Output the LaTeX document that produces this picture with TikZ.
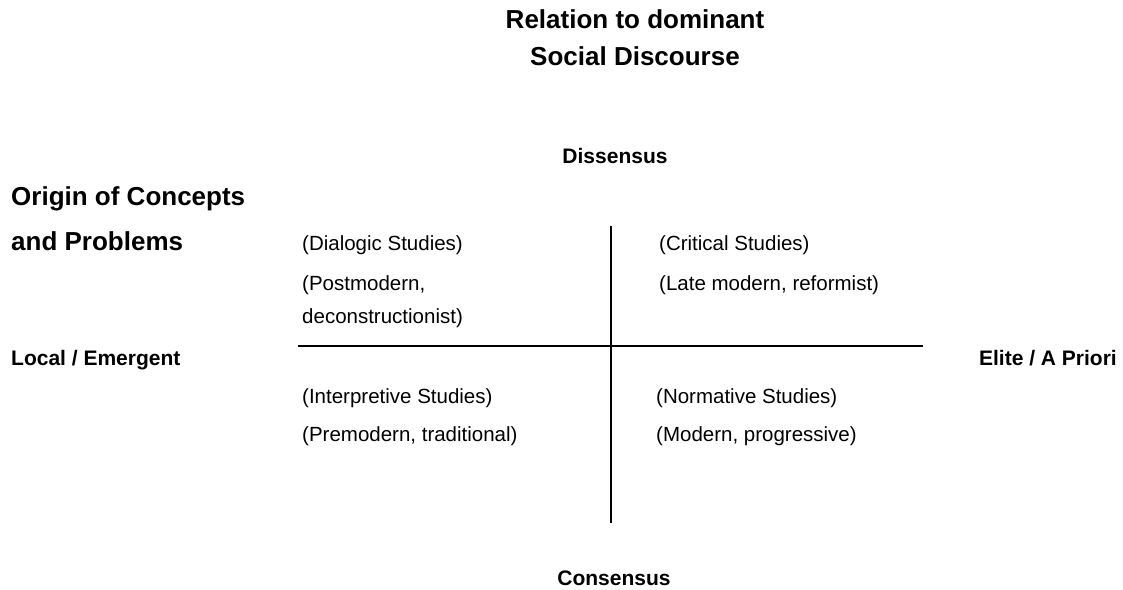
\documentclass[tikz,border=0pt]{standalone}
\usepackage{fontspec}
\setmainfont{Liberation Sans}
\begin{document}
\begin{tikzpicture}[x=1pt,y=-1pt,
  big/.style={font=\fontsize{26}{30}\selectfont\bfseries, inner sep=0pt},
  lab/.style={font=\fontsize{21}{25}\selectfont\bfseries, inner sep=0pt},
  txt/.style={font=\fontsize{20.5}{24}\selectfont, inner sep=0pt, anchor=base west},
  axis/.style={line width=2pt, black}]
\useasboundingbox (0,0) rectangle (1123,589);
% titles
\node[big, anchor=base] (t1) at (635,28.5) {Relation to dominant};
\node[big, anchor=base] (t2) at (635,65) {Social Discourse};
\node[big, anchor=base west] (o1) at (11,205) {Origin of Concepts};
\node[big, anchor=base west] (o2) at (11,250) {and Problems};
% axis labels
\node[lab, anchor=base] (dis) at (615,163) {Dissensus};
\node[lab, anchor=base] (con) at (614,585) {Consensus};
\node[lab, anchor=base west] (loc) at (11,365) {Local / Emergent};
\node[lab, anchor=base east] (eli) at (1117,365) {Elite / A Priori};
% axes
\coordinate (hl) at (298,346);
\coordinate (hr) at (923,346);
\coordinate (vt) at (611,226);
\coordinate (vb) at (611,523);
\draw[axis] (hl) -- (hr);
\draw[axis] (vt) -- (vb);
% quadrant texts
\node[txt] (q1a) at (302,250) {(Dialogic Studies)};
\node[txt] (q1b) at (302,290) {(Postmodern,};
\node[txt] (q1c) at (302,323) {deconstructionist)};
\node[txt] (q2a) at (659,250) {(Critical Studies)};
\node[txt] (q2b) at (659,290) {(Late modern, reformist)};
\node[txt] (q3a) at (302,403) {(Interpretive Studies)};
\node[txt] (q3b) at (302,441) {(Premodern, traditional)};
\node[txt] (q4a) at (656,403) {(Normative Studies)};
\node[txt] (q4b) at (656,441) {(Modern, progressive)};
\end{tikzpicture}
\end{document}
